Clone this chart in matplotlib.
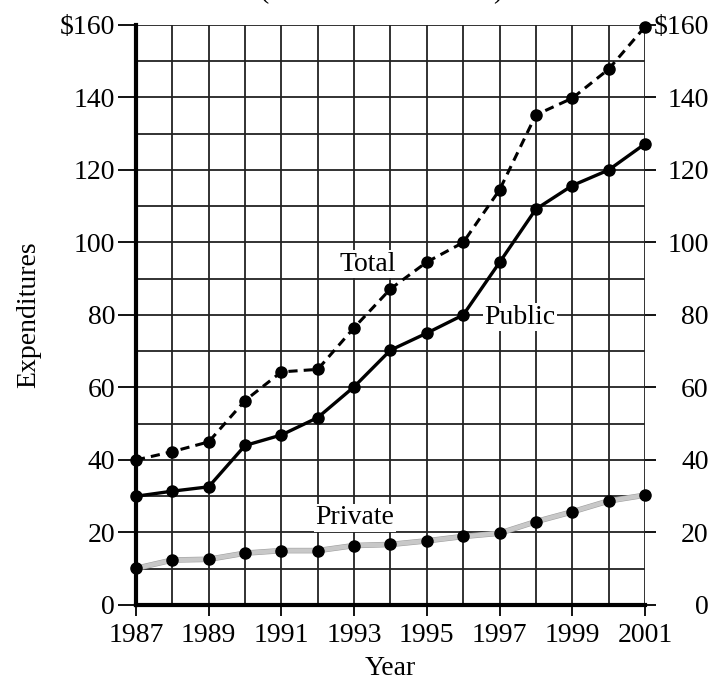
import numpy as np
import matplotlib.pyplot as plt
import matplotlib.patheffects as pe

plt.rcParams['font.family'] = ['Liberation Serif', 'DejaVu Serif']

# Expenditures in billions of dollars, 1987-2001
years = np.arange(1987, 2002)
total = [40, 42.3, 45, 56.4, 64.3, 65, 76.5, 87.2, 94.6, 100, 114.5, 135.2, 139.8, 147.8, 159.5]
public = [30, 31.4, 32.6, 44, 46.9, 51.7, 60.2, 70.3, 75, 80, 94.5, 109.2, 115.7, 120, 127.2]
private = [10.1, 12.4, 12.6, 14.3, 15, 15, 16.4, 16.7, 17.7, 18.9, 19.8, 23, 25.7, 28.7, 30.3]

left_ticks = [0, 20, 40, 60, 80, 100, 120, 140, 160]
left_labels = ['0', '20', '40', '60', '80', '100', '120', '140', '$160']
year_ticks = list(range(1987, 2002, 2))

fs = 20
fig = plt.figure(figsize=(7.13, 6.9), dpi=100)
ax = fig.add_axes([0.1907, 0.1232, 0.7139, 0.8406])
ax.set_xlim(1987, 2001)
ax.set_ylim(0, 160)

# grid: every year, every 10 billion
ax.set_xticks(year_ticks)
ax.set_xticks(years, minor=True)
ax.set_yticks(left_ticks)
ax.set_yticks(np.arange(0, 161, 10), minor=True)
ax.set_yticklabels(left_labels, fontsize=fs)
ax.set_xticklabels([str(y) for y in year_ticks], fontsize=fs)
ax.grid(True, which='both', color='#222222', lw=1.3)
ax.set_axisbelow(True)
ax.tick_params(axis='y', which='major', length=13, width=1.3, pad=2)
ax.tick_params(axis='x', which='major', length=8, width=1.3, pad=5)
ax.tick_params(which='minor', length=0)
for side in ['top', 'right']:
    ax.spines[side].set_visible(False)
ax.spines['left'].set_linewidth(3)
ax.spines['bottom'].set_linewidth(3)

# right-hand scale
ax2 = ax.twinx()
ax2.set_ylim(0, 160)
ax2.set_yticks(left_ticks)
ax2.set_yticklabels(left_labels, fontsize=fs, ha='right')
ax2.tick_params(axis='y', length=8, width=1.3, pad=38)
for side in ['top', 'left', 'bottom', 'right']:
    ax2.spines[side].set_visible(False)

# data lines
ax.plot(years, private, color='#c8c8c8', lw=3.2, zorder=3, clip_on=False,
        path_effects=[pe.Stroke(linewidth=4.0, foreground='#a0a0a0'), pe.Normal()])
ax.plot(years, private, ls='none', marker='o', ms=8, color='black', zorder=4, clip_on=False)
ax.plot(years, public, color='black', lw=2.4, marker='o', ms=8, zorder=4, clip_on=False)
ax.plot(years, total, color='black', lw=2.2, ls=(0, (3, 2)), marker='o', ms=8,
        zorder=4, clip_on=False)

box = dict(facecolor='white', edgecolor='none', pad=1)
ax.text(1993.38, 94, 'Total', fontsize=fs, ha='center', va='center', bbox=box, zorder=2)
ax.text(1997.56, 79.4, 'Public', fontsize=fs, ha='center', va='center', bbox=box, zorder=2)
ax.text(1993.02, 24, 'Private', fontsize=fs, ha='center', va='center', bbox=box, zorder=2)

ax.set_xlabel('Year', fontsize=fs, labelpad=6)
fig.text(0.04, 0.544, 'Expenditures', fontsize=fs, rotation=90, ha='center', va='center')
fig.text(0.535, 1.003, '(in billions of dollars)', fontsize=fs, ha='center', va='baseline')

fig.savefig('out.png', dpi=100)
